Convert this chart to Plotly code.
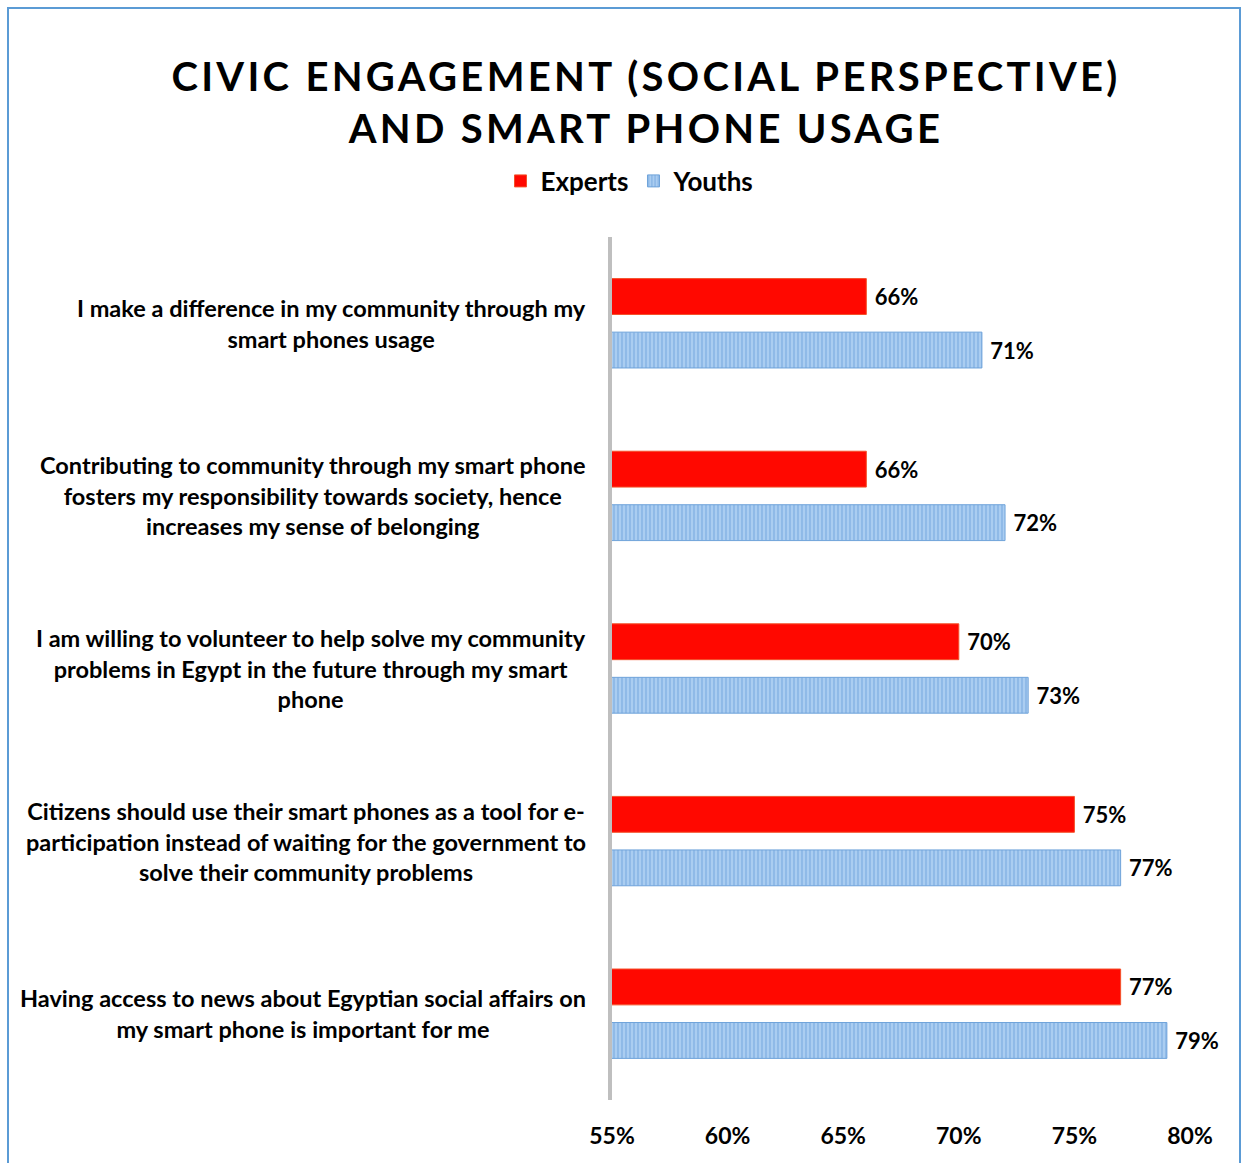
import plotly.graph_objects as go

categories = [
    "I make a difference in my community through my<br>smart phones usage",
    "Contributing to community through my smart phone<br>fosters my responsibility towards society, hence<br>increases my sense of belonging",
    "I am willing to volunteer to help solve my community<br>problems in Egypt in the future through my smart<br>phone",
    "Citizens should use their smart phones as a tool for e-<br>participation instead of waiting for the government to<br>solve their community problems",
    "Having access to news about Egyptian social affairs on<br>my smart phone is important for me",
]
experts = [0.66, 0.66, 0.70, 0.75, 0.77]
youths = [0.71, 0.72, 0.73, 0.77, 0.79]
tick_vals = [0.55, 0.60, 0.65, 0.70, 0.75, 0.80]
tick_text = ["55%", "60%", "65%", "70%", "75%", "80%"]

FONT = "Lato"
W, H = 1241, 1163
ML, MR, MT, MB = 612, 51, 237, 63
PW, PH = W - ML - MR, H - MT - MB

def px_x(p):
    return (p - ML) / PW

def px_y(p):
    return (H - MB - p) / PH

def bfont(size):
    return dict(family=FONT, size=size, color="black", weight="bold")

fig = go.Figure()
fig.add_trace(go.Bar(
    name="Experts", y=categories, x=experts, orientation="h",
    marker=dict(color="#FF0800", line=dict(color="#F4502A", width=1)),
    text=["\u00a0" + f"{v:.0%}" for v in experts], textposition="outside",
    textfont=bfont(22), cliponaxis=False,
))
fig.add_trace(go.Bar(
    name="Youths", y=categories, x=youths, orientation="h",
    marker=dict(color="#9FC5EE", line=dict(color="#6FA3DA", width=1),
                pattern=dict(shape="|", fgcolor="#5E96D6", bgcolor="#AACDF1",
                             size=4, solidity=0.35)),
    text=["\u00a0" + f"{v:.0%}" for v in youths], textposition="outside",
    textfont=bfont(22), cliponaxis=False,
))

annotations = []
for c in categories:
    annotations.append(dict(
        x=px_x(588), xref="paper", xanchor="right", y=c, yref="y", yanchor="middle",
        text=c, showarrow=False, align="center", font=bfont(23.5),
    ))

fig.update_layout(
    width=W, height=H, margin=dict(l=ML, r=MR, t=MT, b=MB),
    paper_bgcolor="white", plot_bgcolor="white",
    barmode="group", bargap=0.38, bargroupgap=0.33,
    title=dict(text="CIVIC ENGAGEMENT (SOCIAL PERSPECTIVE)<br>AND SMART PHONE USAGE",
               x=646 / W, xanchor="center", y=1 - 91 / H, yanchor="middle",
               font=bfont(40)),
    legend=dict(orientation="h", x=px_x(630), xanchor="center", y=px_y(181),
                yanchor="middle", font=bfont(26), traceorder="normal"),
    xaxis=dict(range=[0.55, 0.80], tickvals=tick_vals, ticktext=tick_text,
               showgrid=False, zeroline=False, showline=False,
               tickfont=bfont(23), ticklabelstandoff=20),
    yaxis=dict(autorange="reversed", showticklabels=False, showgrid=False,
               showline=True, linecolor="#BFBFBF", linewidth=4, ticks=""),
    annotations=annotations,
    shapes=[dict(type="rect", xref="paper", yref="paper",
                 x0=px_x(8), x1=px_x(1240), y0=px_y(1175), y1=px_y(8),
                 line=dict(color="#5B9BD5", width=2), fillcolor="rgba(0,0,0,0)",
                 layer="below")],
)

fig.write_html("out.html",
               post_script="document.querySelectorAll('.gtitle').forEach(function(e){e.style.letterSpacing='3.3px';});")
